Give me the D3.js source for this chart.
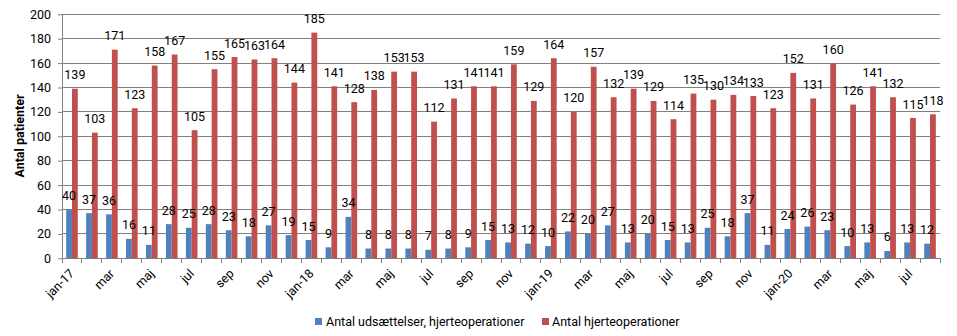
<!DOCTYPE html>
<html><head><meta charset="utf-8">
<script src="https://cdn.jsdelivr.net/npm/d3@7"></script>
<style>
body{margin:0;background:#fff;}
text{font-family:Roboto, "Liberation Sans", sans-serif;}
</style></head>
<body><svg id="c" width="957" height="336"></svg>
<script>
const months = ["jan-17","feb","mar","apr","maj","jun","jul","aug","sep","okt","nov","dec",
"jan-18","feb","mar","apr","maj","jun","jul","aug","sep","okt","nov","dec",
"jan-19","feb","mar","apr","maj","jun","jul","aug","sep","okt","nov","dec",
"jan-20","feb","mar","apr","maj","jun","jul","aug"];
const udsaettelser = [40,37,36,16,11,28,25,28,23,18,27,19, 15,9,34,8,8,8,7,8,9,15,13,12, 10,22,20,27,13,20,15,13,25,18,37,11, 24,26,23,10,13,6,13,12];
const operationer = [139,103,171,123,158,167,105,155,165,163,164,144, 185,141,128,138,153,153,112,131,141,141,159,129, 164,120,157,132,139,129,114,135,130,134,133,123, 152,131,160,126,141,132,115,118];
const seriesNames = ["Antal udsættelser, hjerteoperationer","Antal hjerteoperationer"];
const colors = ["#4F81BD","#C0504D"];
const yTicks = [0,20,40,60,80,100,120,140,160,180,200];

const svg = d3.select("#c");
const L=62, R=940, T=14.3, B=258.3;
const idx = months.map((m,i)=>i);
const x = d3.scaleBand().domain(idx).range([L,R]).padding(0);
const x1 = d3.scaleBand().domain([0,1]).range([0,x.bandwidth()]).paddingInner(0).paddingOuter(0.72);
const y = d3.scaleLinear().domain([0,200]).range([B,T]);

// gridlines
svg.append("g").selectAll("line").data(yTicks.filter(d=>d>0)).join("line")
  .attr("x1",L).attr("x2",R).attr("y1",d=>y(d)).attr("y2",d=>y(d))
  .attr("stroke","#808080").attr("stroke-width",1).attr("shape-rendering","crispEdges");

// y axis
const ya = svg.append("g").attr("transform",`translate(${L},0)`)
  .call(d3.axisLeft(y).tickValues(yTicks).tickSize(4).tickPadding(7).tickSizeOuter(0));
ya.select(".domain").attr("stroke","#808080");
ya.selectAll(".tick line").attr("stroke","#808080");
ya.selectAll("text").attr("font-size","12.5px").attr("fill","#000").attr("font-family","Roboto");

// bars
const data = [udsaettelser, operationer];
data.forEach((vals,s)=>{
  svg.append("g").selectAll("rect").data(vals).join("rect")
    .attr("x",(d,i)=>x(i)+x1(s)).attr("width",x1.bandwidth())
    .attr("y",d=>y(d)).attr("height",d=>B-y(d)).attr("fill",colors[s]);
});
// labels on top of all bars
data.forEach((vals,s)=>{
  svg.append("g").selectAll("text").data(vals).join("text")
    .attr("x",(d,i)=>x(i)+x1(s)+x1.bandwidth()/2).attr("y",d=>y(d)-9.5)
    .attr("text-anchor","middle").attr("font-size","12.5px").attr("fill","#000")
    .text(d=>d);
});

// x axis
const xa = svg.append("g").attr("transform",`translate(0,${B})`);
xa.append("line").attr("x1",L).attr("x2",R).attr("y1",0).attr("y2",0).attr("stroke","#808080").attr("shape-rendering","crispEdges");
xa.selectAll("line.tk").data(d3.range(months.length+1)).join("line").attr("class","tk")
  .attr("x1",d=>L+d*x.step()).attr("x2",d=>L+d*x.step()).attr("y1",0).attr("y2",5)
  .attr("stroke","#808080").attr("shape-rendering","crispEdges");
xa.selectAll("text").data(idx.filter(i=>i%2===0)).join("text")
  .attr("transform",i=>`translate(${x(i)+x.bandwidth()/2},13) rotate(-45)`)
  .attr("text-anchor","end").attr("dy","0.35em").attr("font-size","12.5px").attr("fill","#000")
  .text(i=>months[i]);

// y title
svg.append("text").attr("transform","translate(24,136) rotate(-90)")
  .attr("text-anchor","middle").attr("font-size","12.5px").attr("font-weight","bold").text("Antal patienter");

// legend
const lg = [[315,326],[542,552]];
seriesNames.forEach((n,s)=>{
  svg.append("rect").attr("x",lg[s][0]).attr("y",318).attr("width",7).attr("height",7).attr("fill",colors[s]);
  svg.append("text").attr("x",lg[s][1]).attr("y",322).attr("dy","0.35em").attr("font-size","12.5px").text(n);
});
</script></body></html>
